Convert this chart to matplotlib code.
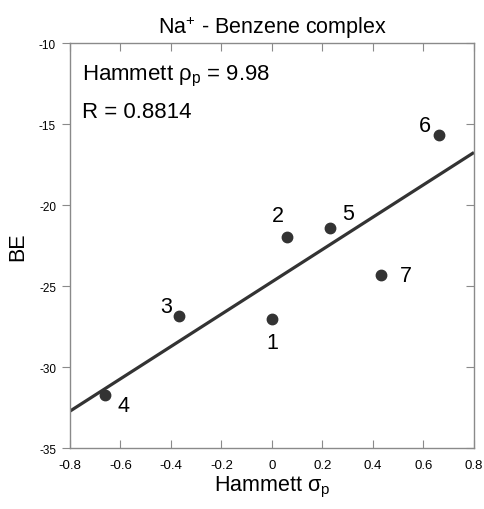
import matplotlib
matplotlib.use("Agg")
import matplotlib.pyplot as plt
import numpy as np

plt.rcParams['font.family'] = ['Liberation Sans', 'DejaVu Sans']
plt.rcParams['mathtext.fontset'] = 'custom'
plt.rcParams['mathtext.rm'] = 'Liberation Sans'
plt.rcParams['mathtext.it'] = 'Liberation Sans'
plt.rcParams['mathtext.sf'] = 'Liberation Sans'

# data
labels = ['1', '2', '3', '4', '5', '6', '7']
sigma_p = [0.00, 0.06, -0.37, -0.66, 0.23, 0.66, 0.43]
be = [-27.05, -21.95, -26.85, -31.7, -21.45, -15.7, -24.35]
slope = 9.98
intercept = -24.74
r_value = 0.8814

# label offsets (points) for each number
offsets = [(0, -17), (-7, 15), (-9, 7), (13, -8), (13, 11), (-10, 7), (18, 0)]

dark = '#333333'
edge = '#8a8a8a'

fig = plt.figure(figsize=(4.84, 5.10), dpi=100)
ax = fig.add_axes([0.1446, 0.1196, 0.8347, 0.7941])

xs = np.array([-0.8, 0.8])
ax.plot(xs, slope * xs + intercept, color=dark, lw=2.3, solid_capstyle='butt')
ax.plot(sigma_p, be, 'o', color=dark, ms=7.5)

for lab, x, y, off in zip(labels, sigma_p, be, offsets):
    ax.annotate(lab, (x, y), xytext=off, textcoords='offset points',
                ha='center', va='center', fontsize=15.5)

ax.text(0.03, 0.92, r'Hammett $\rho_{\mathrm{p}}$ = %.2f' % slope,
        transform=ax.transAxes, fontsize=16, va='center')
ax.text(0.03, 0.83, 'R = %.4f' % r_value,
        transform=ax.transAxes, fontsize=16, va='center')

ax.set_xlim(-0.8, 0.8)
ax.set_ylim(-35, -10)
ax.set_xticks(np.arange(-0.8, 0.81, 0.2))
ax.set_xticklabels(['-0.8', '-0.6', '-0.4', '-0.2', '0', '0.2', '0.4', '0.6', '0.8'])
ax.set_yticks(np.arange(-35, -9, 5))
ax.set_yticklabels(['-35', '-30', '-25', '-20', '-15', '-10'])

for s in ax.spines.values():
    s.set_color(edge)
    s.set_linewidth(1.0)

ax.tick_params(axis='x', direction='in', top=True, length=6, color=edge,
               labelsize=9.5, pad=8)
ax.tick_params(axis='y', direction='out', left=True, length=6, color=edge,
               labelsize=8.5, pad=4)
# inward ticks on the right side
ax2 = ax.twinx()
ax2.set_ylim(ax.get_ylim())
ax2.set_yticks(ax.get_yticks())
ax2.tick_params(axis='y', direction='in', length=6, color=edge, labelright=False)
for s in ax2.spines.values():
    s.set_visible(False)

ax.set_title(r'Na$^{+}$ - Benzene complex', fontsize=15.5, pad=7)
ax.set_xlabel(r'Hammett $\sigma_{\mathrm{p}}$', fontsize=15.5, labelpad=2)
ax.set_ylabel('BE', fontsize=15.5, labelpad=8)

fig.savefig('out.png', dpi=100)
